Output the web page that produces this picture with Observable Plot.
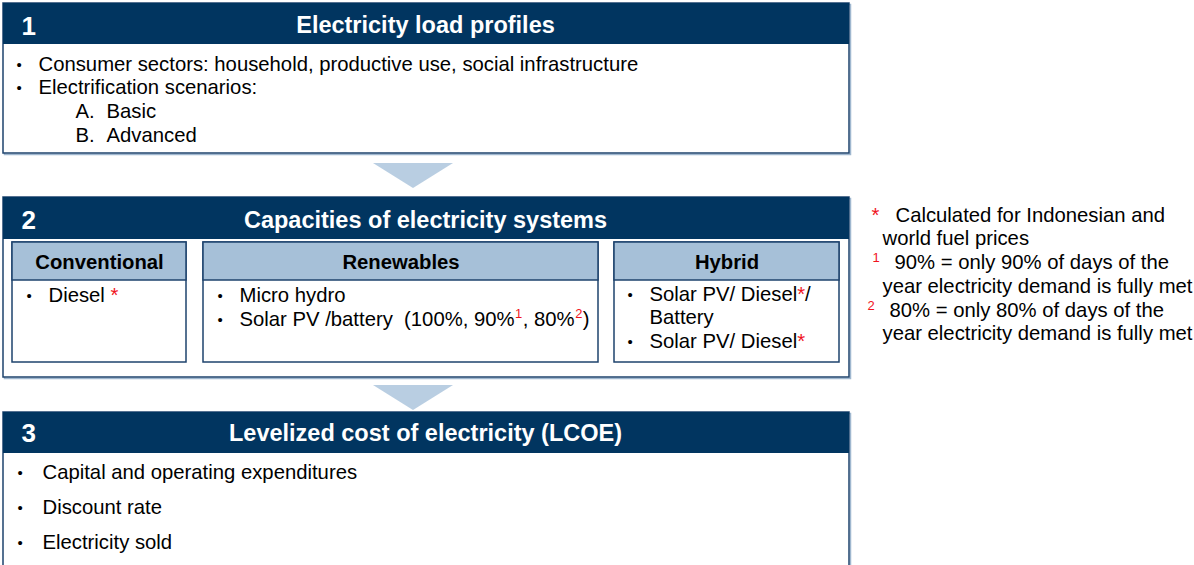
<!DOCTYPE html>
<html><head><meta charset="utf-8">
<script src="https://cdn.jsdelivr.net/npm/d3@7"></script>
<script src="https://cdn.jsdelivr.net/npm/@observablehq/plot@0.6"></script>
<style>html,body{margin:0;padding:0;background:#fff}#chart svg{display:block}</style>
</head><body><div id="chart"></div>
<script>
// ---------- content ----------
const stepNumbers = ["1", "2", "3"];
const stepTitles = ["Electricity load profiles", "Capacities of electricity systems", "Levelized cost of electricity (LCOE)"];
const loadProfileItems = ["Consumer sectors: household, productive use, social infrastructure", "Electrification scenarios:"];
const scenarioLetters = ["A.", "B."];
const scenarioNames = ["Basic", "Advanced"];
const systemCategories = ["Conventional", "Renewables", "Hybrid"];
const conventionalItems = ["Diesel {*}"];
const renewableItems = ["Micro hydro", "Solar PV /battery  (100%, 90%{^1}, 80%{^2})"];
const hybridItems = [["Solar PV/ Diesel{*}/", "Battery"], ["Solar PV/ Diesel{*}"]];
const lcoeItems = ["Capital and operating expenditures", "Discount rate", "Electricity sold"];
const footnoteMarkers = ["*", "1", "2"];
const footnoteTexts = [
  ["Calculated for Indonesian and", "world fuel prices"],
  ["90% = only 90% of days of the", "year electricity demand is fully met"],
  ["80% = only 80% of days of the", "year electricity demand is fully met"]
];

// ---------- style / layout ----------
const W = 1194, H = 565;
const FONT = "Liberation Sans, Arial, Helvetica, sans-serif";
const NAVY = "#013560", BORDER = "#1e436d", SHADOW = "#9fb7cf", SUBHEAD = "#a6c0d8", ARROW = "#b9cee2", RED = "#f0141e";
const BODY = 20.3, BULLET = 15;
const ctx = document.createElement("canvas").getContext("2d");
function measure(t, size, weight) { ctx.font = `${weight || "normal"} ${size}px ${FONT}`; return ctx.measureText(t).width; }

const bands = [
  {hy1: 3, hy2: 44, by2: 153, numY: 34, titleY: 32},
  {hy1: 197, hy2: 239, by2: 377, numY: 228, titleY: 227},
  {hy1: 412, hy2: 453, by2: 580, numY: 441, titleY: 440}
];
const FX1 = 3, FX2 = 849;
const subBoxes = [
  {x1: 12, x2: 186}, {x1: 203, x2: 598}, {x1: 614, x2: 839}
];
const SUB_HY1 = 242, SUB_HY2 = 280, SUB_BY2 = 362;
const arrows = [{top: 163, tip: 188}, {top: 385, tip: 410}];
const AX1 = 373, AX2 = 453;

const texts = [];
function pushText(x, y, text, o = {}) {
  texts.push({x, y, text, fill: o.fill || "#000", size: o.size || BODY, weight: o.weight || "normal", anchor: o.anchor || "start"});
}
function bullet(x, y) { pushText(x, y - 1, "•", {size: BULLET}); }
function richLine(x, y, str, size = BODY) {
  const parts = str.split(/(\{\*\}|\{\^\d\})/).filter(s => s !== "");
  let cx = x;
  for (const p of parts) {
    if (p === "{*}") { pushText(cx, y, "*", {fill: RED, size}); cx += measure("*", size); }
    else if (p.startsWith("{^")) { const d = p.slice(2, -1); const s = size * 0.64; pushText(cx + 0.5, y - size * 0.36, d, {fill: RED, size: s}); cx += measure(d, s) + 1; }
    else { pushText(cx, y, p, {size}); cx += measure(p, size); }
  }
}

bands.forEach((b, i) => {
  pushText(21, b.numY, stepNumbers[i], {fill: "#fff", size: 26, weight: "bold"});
  pushText(425, b.titleY, stepTitles[i], {fill: "#fff", size: 23.5, weight: "bold", anchor: "middle"});
});
const b1Y = [70, 93];
loadProfileItems.forEach((t, i) => { bullet(16, b1Y[i]); pushText(38, b1Y[i], t); });
const scY = [117, 141];
scenarioLetters.forEach((l, i) => { pushText(75, scY[i], l); pushText(106, scY[i], scenarioNames[i]); });
systemCategories.forEach((c, i) => {
  const sb = subBoxes[i];
  pushText((sb.x1 + sb.x2) / 2, 268, c, {size: 20.3, weight: "bold", anchor: "middle"});
});
conventionalItems.forEach((t, i) => { bullet(26, 301 + 24 * i); richLine(48, 301 + 24 * i, t); });
renewableItems.forEach((t, i) => { bullet(217, 301 + 24 * i); richLine(239, 301 + 24 * i, t); });
{ let y = 300; hybridItems.forEach(lines => { bullet(627, y); lines.forEach(l => { richLine(649, y, l); y += 23.5; }); }); }
lcoeItems.forEach((t, i) => { const y = 478 + 35 * i; bullet(17, y); pushText(42, y, t); });
const fnMarkX = [871, 872, 867], fnTextX = [895, 894, 889];
footnoteTexts.forEach((lines, i) => {
  const y0 = 221 + 47.5 * i;
  const m = footnoteMarkers[i];
  if (m === "*") pushText(fnMarkX[i], y0, m, {fill: RED, size: BODY});
  else pushText(fnMarkX[i], y0 - 7, m, {fill: RED, size: 13});
  pushText(fnTextX[i], y0, lines[0]);
  pushText(882, y0 + 23.5, lines[1]);
});

const shadowRects = [], borderRects = [], fillRects = [];
bands.forEach(b => {
  shadowRects.push({x1: FX1 + 1.5, x2: FX2 + 1.5, y1: b.hy1 + 1.5, y2: b.by2 + 1.5});
  borderRects.push({x1: FX1, x2: FX2, y1: b.hy1, y2: b.by2});
  fillRects.push({x1: FX1, x2: FX2, y1: b.hy1, y2: b.hy2, fill: NAVY});
});
subBoxes.forEach(sb => {
  shadowRects.push({x1: sb.x1 + 1.5, x2: sb.x2 + 1.5, y1: SUB_HY1 + 1.5, y2: SUB_BY2 + 1.5});
  borderRects.push({x1: sb.x1, x2: sb.x2, y1: SUB_HY1, y2: SUB_BY2});
  fillRects.push({x1: sb.x1, x2: sb.x2, y1: SUB_HY1, y2: SUB_HY2, fill: SUBHEAD});
});
const arrowPts = [];
arrows.forEach((a, i) => {
  arrowPts.push({id: i, x: AX1, y1: a.top, y2: a.top}, {id: i, x: (AX1 + AX2) / 2, y1: a.top, y2: a.tip}, {id: i, x: AX2, y1: a.top, y2: a.top});
});

const textMarks = [];
for (const [, arr] of d3.groups(texts, d => `${d.fill}|${d.size}|${d.weight}|${d.anchor}`)) {
  const f = arr[0];
  textMarks.push(Plot.text(arr, {x: "x", y: "y", text: "text", fill: f.fill, fontSize: f.size, fontWeight: f.weight, textAnchor: f.anchor, lineAnchor: "bottom", fontFamily: FONT}));
}

const chart = Plot.plot({
  width: W, height: H, margin: 0,
  x: {domain: [0, W], range: [0, W], axis: null},
  y: {domain: [0, H], range: [0, H], axis: null},
  style: {fontFamily: FONT, background: "#fff"},
  marks: [
    Plot.rect(shadowRects, {x1: "x1", x2: "x2", y1: "y1", y2: "y2", fill: "none", stroke: SHADOW, strokeWidth: 1.5}),
    Plot.rect(borderRects, {x1: "x1", x2: "x2", y1: "y1", y2: "y2", fill: "#fff", stroke: BORDER, strokeWidth: 1.5}),
    Plot.rect(fillRects.filter(d => d.fill === NAVY), {x1: "x1", x2: "x2", y1: "y1", y2: "y2", fill: NAVY}),
    Plot.rect(fillRects.filter(d => d.fill === SUBHEAD), {x1: "x1", x2: "x2", y1: "y1", y2: "y2", fill: SUBHEAD, stroke: BORDER, strokeWidth: 1.5}),
    Plot.areaY(arrowPts, {x: "x", y1: "y1", y2: "y2", z: "id", fill: ARROW, curve: "linear"}),
    ...textMarks
  ]
});
document.getElementById("chart").appendChild(chart);
</script></body></html>
